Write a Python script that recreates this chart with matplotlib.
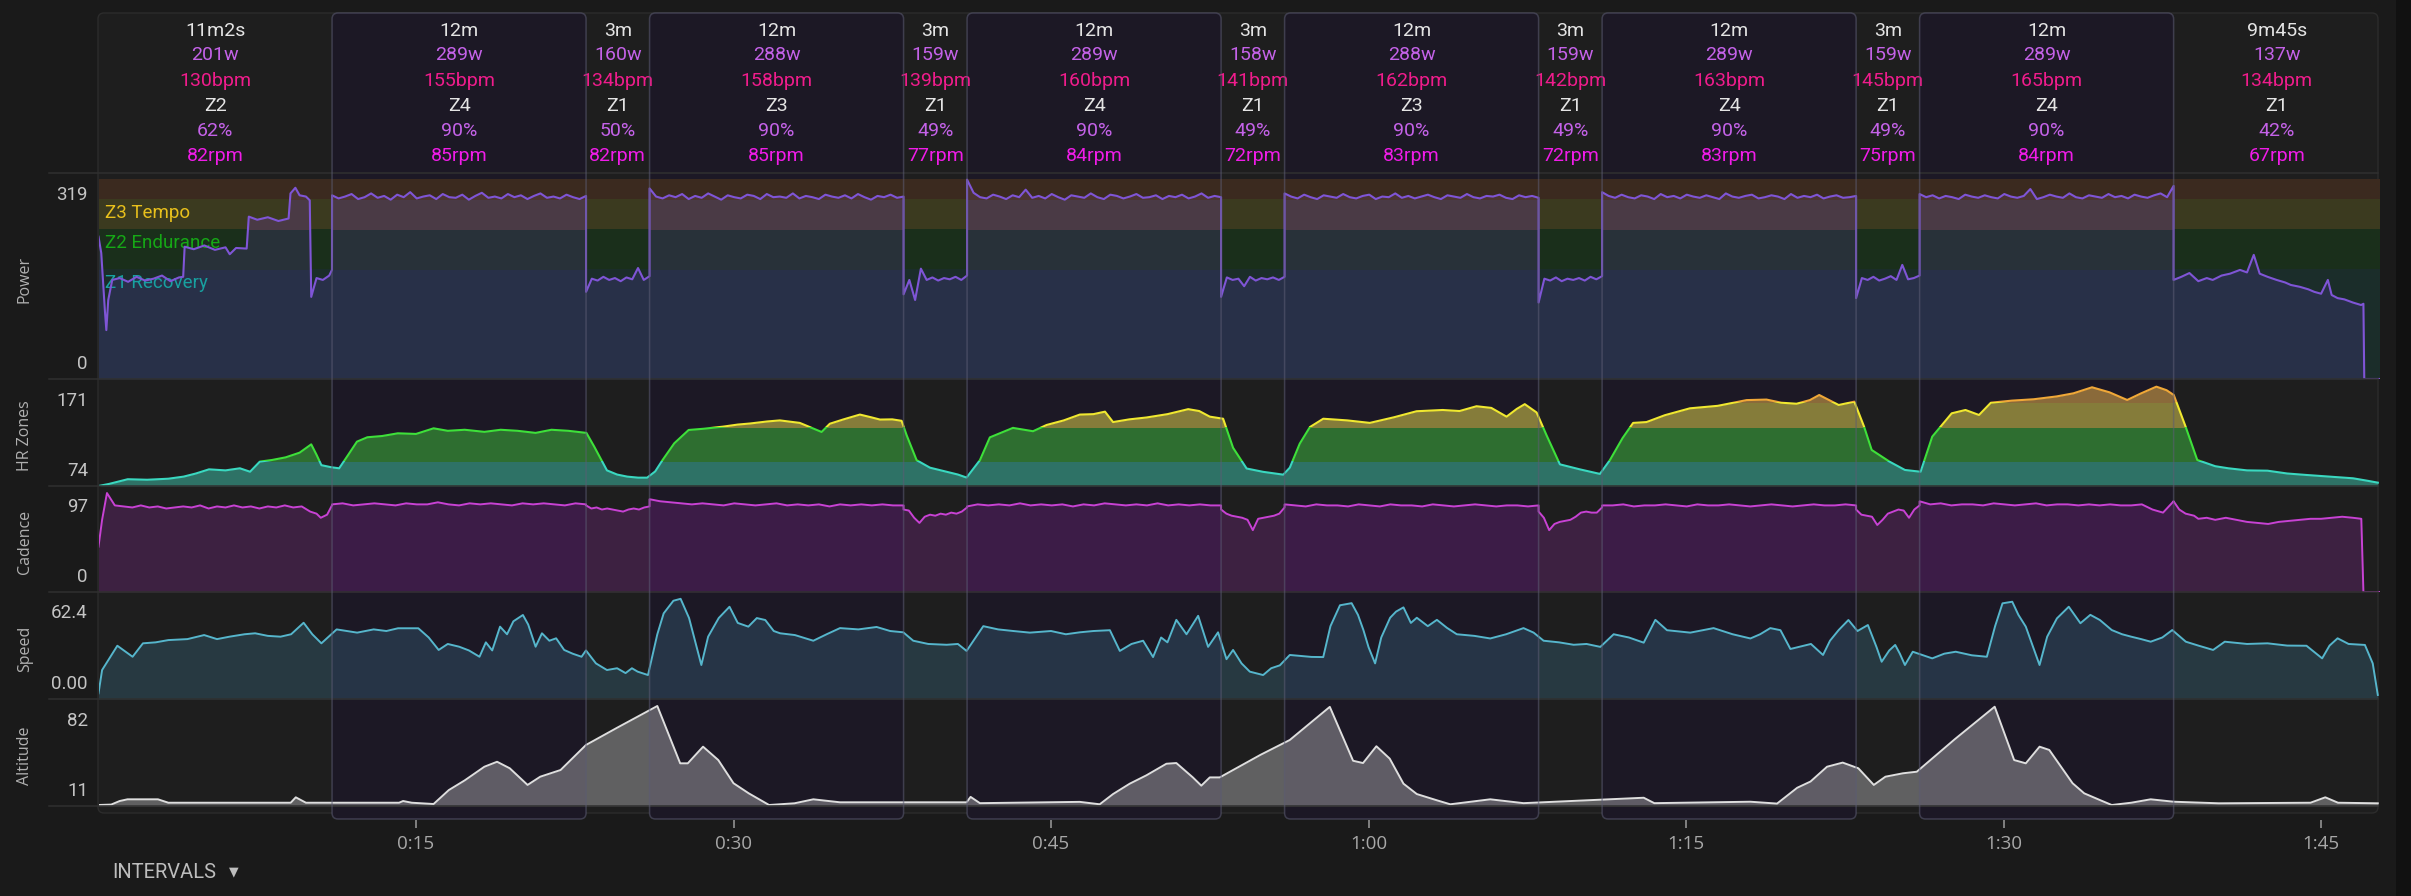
import numpy as np
import matplotlib
matplotlib.use("Agg")
import matplotlib.pyplot as plt
from matplotlib.patches import FancyBboxPatch, Rectangle

# ---------------- data ----------------
interval_labels = ["11m2s", "12m", "3m", "12m", "3m", "12m", "3m", "12m", "3m", "12m", "3m", "12m", "9m45s"]
interval_minutes = [11 + 2 / 60, 12, 3, 12, 3, 12, 3, 12, 3, 12, 3, 12, 9.75]
interval_is_work = [False, True, False, True, False, True, False, True, False, True, False, True, False]
interval_watts = [201, 289, 160, 288, 159, 289, 158, 288, 159, 289, 159, 289, 137]
interval_bpm = [130, 155, 134, 158, 139, 160, 141, 162, 142, 163, 145, 165, 134]
interval_zone = ["Z2", "Z4", "Z1", "Z3", "Z1", "Z4", "Z1", "Z3", "Z1", "Z4", "Z1", "Z4", "Z1"]
interval_pct = [62, 90, 50, 90, 49, 90, 49, 90, 49, 90, 49, 90, 42]
interval_rpm = [82, 85, 82, 85, 77, 84, 72, 83, 72, 83, 75, 84, 67]

# power (W)
power_warm_t = [0.0, 0.13, 0.30, 0.37, 0.46, 0.65, 1.0, 1.4, 1.8, 2.2, 2.6, 3.0, 3.4, 3.8, 4.0, 4.07, 4.5, 5.0, 5.5, 6.0,
                6.2, 6.5, 7.0, 7.1, 7.5, 8.0, 8.5, 8.98, 9.07, 9.3, 9.5, 9.8, 9.98, 10.05, 10.3, 10.6, 10.9, 11.03]
power_warm_w = [227, 201, 110, 78, 126, 158, 161, 155, 163, 157, 160, 165, 156, 162, 163, 211, 207, 213, 206, 210,
                199, 209, 208, 259, 254, 258, 252, 256, 296, 305, 293, 291, 285, 131, 161, 158, 165, 174]
power_work = [
    [293, 288, 291, 295, 287, 290, 296, 289, 292, 286, 294, 290, 298, 288, 291, 293, 287, 295, 290, 289,
     294, 286, 292, 297, 289, 291, 288, 295, 290, 293, 287, 292, 296, 289, 291, 288, 294, 290, 287, 292],
    [304, 291, 288, 293, 290, 295, 287, 292, 289, 296, 291, 286, 293, 290, 288, 294, 292, 287, 295, 290,
     291, 289, 296, 288, 292, 290, 287, 294, 291, 289, 293, 288, 295, 290, 286, 292, 290, 294, 289, 291],
    [318, 297, 290, 288, 294, 291, 287, 293, 290, 302, 289, 292, 288, 295, 290, 286, 293, 291, 289, 296,
     290, 287, 294, 292, 288, 291, 295, 289, 290, 293, 287, 292, 290, 294, 288, 291, 296, 289, 292, 290],
    [296, 291, 288, 294, 290, 287, 293, 291, 289, 295, 290, 288, 292, 294, 287, 291, 290, 296, 289, 292,
     288, 291, 294, 290, 287, 293, 291, 289, 295, 290, 288, 292, 291, 294, 289, 287, 293, 290, 292, 289],
    [298, 292, 289, 294, 290, 288, 293, 291, 287, 295, 290, 292, 288, 294, 291, 289, 293, 290, 287, 296,
     291, 289, 292, 294, 288, 290, 293, 291, 287, 295, 289, 292, 290, 294, 288, 291, 293, 289, 290, 292],
    [295, 290, 293, 288, 292, 290, 287, 294, 291, 289, 293, 290, 288, 295, 291, 289, 292, 303, 287, 290,
     294, 291, 289, 296, 290, 288, 293, 291, 289, 295, 290, 292, 288, 294, 291, 289, 293, 296, 290, 308],
]
power_recovery = [
    [139, 160, 157, 163, 158, 161, 156, 162, 159, 177, 158, 164],
    [135, 158, 126, 176, 158, 162, 157, 161, 159, 163, 158, 165],
    [131, 162, 158, 160, 148, 163, 157, 161, 159, 162, 158, 163],
    [122, 160, 157, 162, 156, 160, 158, 161, 157, 163, 159, 164],
    [129, 161, 158, 163, 157, 160, 164, 158, 182, 159, 161, 165],
]
power_cool_t = [98.03, 98.4, 98.78, 99.2, 99.6, 99.88, 100.3, 100.7, 101.17, 101.5, 101.82, 102.1, 102.47, 102.9,
                103.3, 103.57, 104.0, 104.4, 104.68, 105.0, 105.32, 105.5, 105.78, 106.1, 106.5, 106.89, 107.0,
                107.04, 107.78]
power_cool_w = [158, 163, 169, 156, 161, 158, 165, 168, 174, 170, 198, 168, 163, 158, 154, 150, 147, 143, 139, 136,
                158, 134, 129, 127, 122, 118, 120, 0, 0]

# heart rate (bpm)
hr_t = [0.0, 0.5, 1.38, 2.3, 3.3, 4.02, 4.6, 5.22, 6.0, 6.68,
        7.16, 7.62, 8.2, 8.84, 9.5, 10.05, 10.3, 10.53, 11.0, 11.37,
        11.8, 12.21, 12.7, 13.4, 14.14, 15.0, 15.83, 16.5, 17.3, 18.23,
        19.0, 19.8, 20.65, 21.4, 22.2, 23.05, 23.42, 24.02, 24.5, 24.98,
        25.5, 25.92, 26.3, 26.65, 27.2, 27.88, 28.6, 29.5, 30.2, 30.77,
        31.6, 32.19, 33.13, 34.16, 34.55, 35.2, 35.97, 36.5, 36.92, 37.5,
        37.94, 38.18, 38.65, 39.28, 40.07, 40.6, 41.01, 41.64, 42.11, 43.2,
        44.15, 44.79, 45.6, 46.36, 47.0, 47.55, 47.93, 48.7, 49.51, 50.5,
        51.48, 52.0, 52.5, 53.13, 53.6, 54.24, 55.02, 55.97, 56.28, 56.75,
        57.23, 57.86, 59.0, 60.06, 61.2, 62.27, 63.5, 64.3, 65.1, 65.8,
        66.52, 67.0, 67.38, 67.94, 68.41, 69.04, 69.98, 70.93, 71.4, 72.0,
        72.5, 73.13, 74.0, 75.18, 76.5, 77.86, 78.8, 79.5, 80.22, 80.85,
        81.29, 82.21, 82.95, 83.41, 83.77, 84.61, 85.34, 86.08, 86.63, 87.55,
        88.2, 88.84, 89.4, 90.4, 91.42, 92.5, 93.3, 94.18, 95.0, 95.84,
        96.5, 97.22, 97.7, 98.04, 98.6, 99.15, 100.0, 100.62, 101.5, 102.47,
        103.4, 104.3, 105.4, 106.51, 107.2, 107.68]
hr_v = [74, 76, 80.5, 80, 81, 83, 86, 90, 89, 91,
        87.7, 97.4, 99, 101.5, 106, 114, 104, 94, 92, 91,
        104, 116.6, 120.8, 122, 124.6, 124, 129.4, 127, 128, 126,
        128, 127, 125, 128, 127, 125, 111.8, 89, 85, 83,
        82, 82, 88, 99, 115, 127.8, 129, 131, 133, 134,
        136, 137, 134.6, 125.9, 133.8, 138, 142.6, 140, 137.8, 138,
        136.6, 122.7, 98.8, 91.6, 87.6, 85, 82.1, 98.8, 120.7, 129.8,
        126.6, 132.6, 137, 142.6, 143, 145.4, 135.4, 138, 139.8, 143,
        147.8, 146, 140.6, 138.6, 110.7, 90.8, 87.6, 84.9, 91.6, 114.7,
        130.6, 138.6, 137, 134.6, 140, 145.8, 147, 146, 150.6, 149,
        140.6, 148, 152.6, 144.6, 122.7, 94.8, 90, 85.6, 98.8, 120,
        134.6, 135.4, 142, 148.6, 151, 156.5, 157, 154, 153, 156.5,
        161.4, 151.8, 155, 131, 108.6, 97.4, 89.4, 87.7, 121.4, 143.8,
        147, 142.2, 154, 156, 157.3, 160, 163, 168.8, 164, 156.6,
        163, 169.4, 166, 161.4, 131, 99, 93, 91, 89, 88.7,
        86, 84.6, 83, 81.4, 79, 77.2]

# cadence (rpm)
cad_warm_t = [0.0, 0.17, 0.4, 0.77, 1.2, 1.6, 2.0, 2.4, 2.8, 3.2, 3.6, 4.0, 4.4, 4.8, 5.2, 5.6, 6.0, 6.4, 6.8, 7.2,
              7.6, 8.0, 8.4, 8.8, 9.2, 9.6, 10.0, 10.3, 10.5, 10.8, 11.03]
cad_warm_v = [44, 70, 96, 84, 83, 82, 84, 82, 83, 81, 82, 83, 82, 84, 81, 83, 82, 84, 82, 83,
              81, 83, 82, 84, 82, 83, 78, 76, 72, 75, 84]
cad_work = [
    [85, 86, 84, 85, 86, 85, 84, 86, 85, 85, 87, 85, 84, 86, 85, 86, 85, 84, 86, 85, 86, 85, 84, 86, 85],
    [90, 88, 87, 86, 85, 86, 85, 84, 86, 85, 84, 85, 86, 84, 85, 84, 85, 83, 85, 84, 85, 84, 85, 84, 84],
    [83, 85, 84, 85, 84, 86, 84, 85, 84, 85, 83, 85, 84, 86, 85, 84, 85, 84, 86, 84, 85, 84, 85, 84, 84],
    [85, 84, 83, 85, 84, 84, 83, 85, 84, 83, 85, 84, 84, 83, 85, 84, 83, 84, 85, 84, 83, 84, 84, 83, 84],
    [84, 84, 85, 83, 84, 84, 85, 84, 83, 85, 84, 84, 85, 84, 83, 84, 85, 84, 83, 84, 85, 84, 84, 85, 84],
    [88, 85, 86, 84, 85, 85, 84, 86, 85, 84, 85, 86, 84, 85, 85, 84, 85, 84, 85, 84, 84, 85, 80, 77, 88],
]
cad_recovery = [
    [84, 81, 82, 80, 81, 80, 79, 78, 80, 81, 80, 82, 83],
    [80, 79, 72, 67, 73, 75, 74, 76, 75, 77, 76, 78, 82],
    [80, 76, 74, 73, 72, 70, 60, 71, 72, 73, 74, 76, 82],
    [78, 72, 60, 66, 68, 69, 70, 73, 77, 78, 77, 77, 82],
    [80, 75, 74, 73, 65, 70, 76, 78, 80, 79, 72, 80, 84],
]
cad_cool_t = [98.03, 98.3, 98.6, 99.0, 99.2, 99.6, 100.0, 100.5, 101.0, 101.5, 102.0, 102.5, 103.0, 103.5, 104.0,
              104.5, 105.0, 105.5, 106.0, 106.5, 106.9, 107.0, 107.78]
cad_cool_v = [88, 80, 76, 74, 71, 72, 70, 72, 70, 68, 67, 66, 68, 69, 70, 71, 71, 72, 73, 72, 71, 0, 0]

# speed
spd_t = [0, 0.17, 0.89, 1.61, 2.10, 2.7, 3.30, 4.2, 4.99, 5.6,
         6.19, 6.9, 7.40, 8.0, 8.60, 9.1, 9.69, 10.1, 10.53, 11.25,
         12.22, 13.0, 13.6, 14.15, 15.11, 15.6, 16.07, 16.5, 17.04, 17.5,
         18.0, 18.3, 18.6, 18.97, 19.3, 19.6, 20.05, 20.3, 20.65, 20.95,
         21.3, 21.62, 22.0, 22.4, 22.82, 23.03, 23.5, 24.02, 24.5, 24.9,
         25.2, 25.47, 25.96, 26.4, 26.7, 27.16, 27.5, 27.9, 28.2, 28.48,
         28.8, 29.3, 29.81, 30.2, 30.7, 31.1, 31.5, 31.9, 32.2, 32.9,
         33.77, 34.4, 35.03, 35.9, 36.76, 37.4, 38.02, 38.49, 39.2, 40.07,
         40.6, 41.01, 41.8, 42.5, 43.22, 44.0, 45.0, 45.7, 46.36, 47.0,
         47.78, 48.25, 48.8, 49.35, 49.82, 50.2, 50.5, 50.92, 51.4, 51.95,
         52.42, 52.89, 53.29, 53.6, 54.0, 54.39, 55.02, 55.4, 55.81, 56.28,
         57.3, 57.86, 58.2, 58.65, 59.2, 59.5, 59.76, 60.0, 60.31, 60.6,
         61.02, 61.3, 61.65, 62.0, 62.28, 62.8, 63.23, 63.7, 64.17, 65.0,
         65.75, 66.5, 67.32, 67.8, 68.27, 69.0, 69.69, 70.3, 70.95, 71.58,
         72.3, 73.0, 73.55, 74.1, 75.2, 76.3, 77.2, 78.04, 78.5, 78.98,
         79.46, 79.93, 80.37, 80.9, 81.47, 81.8, 82.21, 82.67, 83.1, 83.59,
         84.0, 84.24, 84.6, 84.88, 85.1, 85.34, 85.71, 86.2, 86.63, 87.2,
         87.74, 88.5, 89.21, 89.6, 89.95, 90.41, 90.7, 91.05, 91.4, 91.7,
         92.06, 92.52, 93.08, 93.63, 94.1, 94.55, 95.11, 95.6, 96.03, 96.5,
         96.95, 97.5, 97.97, 98.61, 99.2, 99.9, 100.45, 101.5, 102.47, 103.4,
         104.31, 105.05, 105.4, 105.78, 106.3, 107.07, 107.44, 107.68]
spd_v = [3.5, 17.9, 32.9, 26.1, 34.4, 35, 36.4, 37, 39.5, 37,
         38.5, 40, 40.6, 39, 38.5, 40, 47.1, 40, 34.4, 43,
         41, 43, 42, 43.7, 43.7, 38, 30.3, 34, 32.3, 30,
         26.1, 35, 30, 44.7, 40, 48, 51.9, 46, 32.3, 40.6,
         36, 37.5, 30.3, 28, 26.1, 30, 22, 17.9, 19, 16,
         19, 16.9, 14.8, 40, 52.9, 60.7, 61.9, 50, 35, 21,
         38.5, 50, 57, 47, 44.7, 50, 48.8, 42, 40.6, 39.5,
         36, 40, 43.8, 43, 44.5, 42, 41.2, 36, 34, 33.5,
         34, 29.7, 45, 43, 42, 41, 42, 40, 41.2, 42,
         42.5, 29.7, 34, 36, 25.9, 38, 35, 48.9, 40, 51.4,
         32.2, 41.2, 24.6, 30.3, 22, 16.9, 14.8, 19, 20.8, 27.2,
         26, 25.9, 45, 57.9, 59.2, 52, 42.5, 32, 22, 38,
         50.2, 54, 56.6, 47, 50.2, 45, 48.9, 44, 40, 39,
         37.4, 40, 43.8, 41, 36, 35, 33.5, 34, 32.2, 40,
         38, 34.8, 48.9, 42.5, 41, 43.8, 40, 37.4, 40, 43.8,
         42.5, 30.9, 32.3, 34, 27.2, 36, 42.6, 48.8, 42, 45.7,
         32, 23, 30, 33.4, 28, 21, 29.2, 27, 25.1, 28,
         29.2, 27, 26.1, 45, 59.1, 60.1, 52, 44.7, 32, 21,
         38.5, 49.8, 57, 46.8, 52, 48.8, 42.6, 40, 38.5, 37,
         35.4, 38, 42.6, 35.4, 33, 30.3, 35.4, 34, 34.4, 33,
         32.9, 25.1, 33, 37.5, 34, 33.4, 22, 2.5]

# altitude (m)
alt_t = [0, 0.6, 1.0, 1.37, 2.81, 3.3, 9.08, 9.32, 9.8, 14.2,
         14.39, 14.8, 15.83, 16.55, 17.3, 18.23, 18.83, 19.43, 20.27, 20.87,
         21.83, 23.03, 24.5, 26.4, 27.48, 27.84, 28.56, 29.28, 30.0, 30.72,
         31.68, 32.88, 33.77, 35.03, 41.01, 41.2, 41.64, 46.36, 47.3, 47.93,
         48.72, 49.51, 50.45, 50.92, 51.7, 52.1, 52.5, 52.97, 54.9, 56.28,
         56.75, 58.17, 59.27, 59.74, 60.37, 61.0, 61.65, 62.28, 63.23, 63.86,
         65.75, 67.32, 73.0, 73.5, 78.04, 79.3, 80.25, 80.88, 81.66, 82.4,
         83.14, 83.87, 84.42, 85.25, 85.9, 87.7, 89.58, 90.5, 91.05, 91.7,
         92.16, 93.26, 93.81, 94.55, 95.11, 96.03, 96.95, 98.04, 100.17, 104.5,
         105.2, 105.8, 107.68]
alt_v = [11.7, 12, 14.5, 15.7, 15.7, 13.3, 13.3, 17.1, 13.3, 13.3,
         14.5, 13.3, 12.4, 22.2, 29, 38.6, 42.1, 37.5, 25.8, 31.6,
         36.3, 53.9, 66, 81.3, 41, 41, 52.7, 43.3, 27, 19.9,
         11.7, 12.9, 15.7, 13.6, 13.6, 17.4, 13, 13.9, 12.2, 19.4,
         26.7, 32.6, 40.7, 41.2, 31.1, 25.3, 31.1, 31.1, 47, 57.4,
         63.2, 80.7, 42.8, 41.2, 53, 44.3, 26.7, 19.4, 15, 12.2,
         15.7, 13, 16.8, 13, 14, 12.7, 23.8, 28.2, 38.6, 41.5,
         37.5, 25.8, 31.6, 34, 35.1, 58, 80.8, 43.3, 41, 52.7,
         50.4, 27, 19.9, 15.2, 11.7, 13.3, 15.7, 14, 12.9, 13.3,
         17.1, 13.3, 12.9]

power_zone_bounds = [0, 175, 239, 287, 319]
power_zone_names = ["Z1 Recovery", "Z2 Endurance", "Z3 Tempo"]
hr_zone_bounds = [74, 98, 131, 155, 250]
x_tick_minutes = [15, 30, 45, 60, 75, 90, 105]
x_tick_labels = ["0:15", "0:30", "0:45", "1:00", "1:15", "1:30", "1:45"]
row_names = ["Power", "HR Zones", "Cadence", "Speed", "Altitude"]
row_ranges = [(0, 319), (74, 171), (0, 97), (0, 62.4), (11, 82)]
row_tick_labels = [("319", "0"), ("171", "74"), ("97", "0"), ("62.4", "0.00"), ("82", "11")]

# ---------------- layout ----------------
W, H = 2411, 896
X0, X1 = 98.5, 2380.0
BG = '#1a1a1a'
PANEL_BG = '#1e1e1e'
WORK_BG = '#1c1825'
row_px = [(173, 379), (379, 486), (486, 592), (592, 699), (699, 806)]

durations = np.array(interval_minutes)
ends = np.cumsum(durations)
starts = ends - durations
total = ends[-1]
ppm = (X1 - X0) / total

fig = plt.figure(figsize=(W / 100, H / 100), dpi=100)
fig.patch.set_facecolor(BG)


def axes_px(x0, y0, x1, y1, z):
    ax = fig.add_axes([x0 / W, 1 - y1 / H, (x1 - x0) / W, (y1 - y0) / H])
    ax.set_zorder(z)
    ax.patch.set_visible(False)
    for s in ax.spines.values():
        s.set_visible(False)
    ax.set_xticks([])
    ax.set_yticks([])
    return ax


def build_series(warm_t, warm_v, work, recovery, cool_t, cool_v):
    t, v = list(warm_t), list(warm_v)
    wi, ri = 0, 0
    for i in range(1, len(interval_minutes) - 1):
        if interval_is_work[i]:
            vals = work[wi]
            wi += 1
        else:
            vals = recovery[ri]
            ri += 1
        t += list(np.linspace(starts[i], ends[i], len(vals)))
        v += list(vals)
    t += list(cool_t)
    v += list(cool_v)
    return np.array(t), np.array(v, dtype=float)


ax_bg = axes_px(0, 0, W, H, 0)
ax_bg.set_xlim(0, W)
ax_bg.set_ylim(H, 0)
ax_bg.add_patch(FancyBboxPatch((98, 13), 2378 - 98, 813 - 13, boxstyle='round,pad=0,rounding_size=6',
                               fc=PANEL_BG, ec='#2c2c2c', lw=1.0))
ax_bg.add_patch(Rectangle((2396, 0), 15, H, fc='#111111', ec='none'))

# work interval boxes
ax_tall = axes_px(X0, 0, X1, H, 0.5)
ax_tall.set_xlim(0, total)
ax_tall.set_ylim(H, 0)
ax_top = axes_px(X0, 0, X1, H, 3)
ax_top.set_xlim(0, total)
ax_top.set_ylim(H, 0)
for s, d, work in zip(starts, durations, interval_is_work):
    if work:
        style = f'round,pad=0,rounding_size={6 / ppm}'
        ax_tall.add_patch(FancyBboxPatch((s, 13), d, 806, boxstyle=style, mutation_aspect=ppm,
                                         fc=WORK_BG, ec='none'))
        ax_top.add_patch(FancyBboxPatch((s, 13), d, 806, boxstyle=style, mutation_aspect=ppm,
                                        fc='none', ec='#5c5c74', lw=1.1, alpha=0.55))

# separators
ax_sep = axes_px(0, 0, W, H, 2.5)
ax_sep.set_xlim(0, W)
ax_sep.set_ylim(H, 0)
for top, bot in row_px:
    ax_sep.plot([49, 2378], [top, top], color='#303030', lw=1.1)
ax_sep.plot([49, 2378], [806, 806], color='#303030', lw=1.1)

# header text
ax_h = axes_px(X0, 13, X1, 173, 2)
ax_h.set_xlim(0, total)
ax_h.set_ylim(173, 13)
hdr_colors = ['#e4e4e4', '#c462e8', '#f01c8c', '#e4e4e4', '#c462e8', '#f01ce8']
hdr_y = [29, 54, 79, 104, 129, 154]
for i in range(len(interval_labels)):
    mid = (starts[i] + ends[i]) / 2
    texts = [interval_labels[i], f"{interval_watts[i]}w", f"{interval_bpm[i]}bpm",
             interval_zone[i], f"{interval_pct[i]}%", f"{interval_rpm[i]}rpm"]
    for txt, yy, col in zip(texts, hdr_y, hdr_colors):
        ax_h.text(mid, yy + 6.5, txt, ha='center', va='baseline', color=col,
                  fontsize=14, family='Roboto')

# panel axes
axes = []
for (top, bot), (vmin, vmax) in zip(row_px, row_ranges):
    ax = axes_px(X0, top, X1, bot, 1)
    axes.append(ax)
ax_p, ax_hr, ax_c, ax_s, ax_a = axes

for name, (top, bot), (tl, bl) in zip(row_names, row_px, row_tick_labels):
    ax_bg.text(88, top + 20 + 6.5, tl, ha='right', va='baseline', fontsize=13.5, family='Roboto', color='#c4c4c4')
    ax_bg.text(88, bot - 16.5 + 6.5, bl, ha='right', va='baseline', fontsize=13.5, family='Roboto', color='#c4c4c4')
    ax_bg.text(25, (top + bot) / 2 + 3, name, rotation=90, ha='center', va='center', family='Open Sans',
               fontsize=11.5, color='#b0b0b0')

# ---- power ----
pt, pw = build_series(power_warm_t, power_warm_w, power_work, power_recovery, power_cool_t, power_cool_w)
band_colors = ['#1b2d2a', '#1a2f1b', '#3b3a1f', '#3b2a1f']
under_colors = ['#283048', '#283139', '#4a3a45', '#4c3433']
for k in range(4):
    lo, hi = power_zone_bounds[k], power_zone_bounds[k + 1]
    ax_p.axhspan(lo, hi, color=band_colors[k], lw=0, zorder=1)
    f = ax_p.fill_between(pt, 0, pw, color=under_colors[k], lw=0, zorder=2)
    f.set_clip_path(Rectangle((0, lo), total, hi - lo, transform=ax_p.transData))
zl_colors = ['#18a0a0', '#16a816', '#e8c01c']
zl_y = [282, 242, 212]
for name, yy, col in zip(power_zone_names, zl_y, zl_colors):
    ax_p.text((105 - X0) / (X1 - X0), (379 - (yy + 6.5)) / (379 - 173), name, transform=ax_p.transAxes,
              ha='left', va='baseline', color=col, fontsize=13.5, family='Roboto', zorder=3)
ax_p.plot(pt, pw, color='#7f55d6', lw=1.5, zorder=4)

# ---- heart rate ----
hr_fill = ['#2e7266', '#2e6e30', '#857c3a', '#8a6a3a']
hr_line = ['#3ad8c0', '#3ee03a', '#f0e830', '#f0a838']
for k in range(4):
    lo, hi = hr_zone_bounds[k], hr_zone_bounds[k + 1]
    f = ax_hr.fill_between(hr_t, 74, hr_v, color=hr_fill[k], lw=0, zorder=2)
    f.set_clip_path(Rectangle((0, lo), total, hi - lo, transform=ax_hr.transData))
    ln, = ax_hr.plot(hr_t, hr_v, color=hr_line[k], lw=1.5, zorder=3)
    ln.set_clip_path(Rectangle((0, lo), total, hi - lo, transform=ax_hr.transData))

# ---- cadence ----
ct, cv = build_series(cad_warm_t, cad_warm_v, cad_work, cad_recovery, cad_cool_t, cad_cool_v)
ax_c.fill_between(ct, 0, cv, color='#ae2ec0', alpha=0.22, lw=0, zorder=2)
ax_c.plot(ct, cv, color='#c842d4', lw=1.4, zorder=3)

# ---- speed ----
ax_s.fill_between(spd_t, 0, spd_v, color='#4fa8cf', alpha=0.2, lw=0, zorder=2)
ax_s.plot(spd_t, spd_v, color='#56b6cc', lw=1.4, zorder=3)

# ---- altitude ----
ax_a.fill_between(alt_t, 11, alt_v, color='#b1b1b4', alpha=0.45, lw=0, zorder=2)
ax_a.plot(alt_t, alt_v, color='#dedede', lw=1.4, zorder=3)

for ax, (vmin, vmax), (top, bot) in zip(axes, row_ranges, row_px):
    ax.set_xlim(0, total)
    ax.set_ylim(vmin, vmax + 6 * (vmax - vmin) / (bot - top - 6))

# x axis on altitude panel
ax_a.set_xticks(x_tick_minutes)
ax_a.set_xticklabels(x_tick_labels)
ax_a.spines['bottom'].set_position(('outward', 14 * 0.72))
ax_a.tick_params(axis='x', length=8 * 0.72, width=1.1, color='#9c9c9c', pad=5,
                 labelsize=13.5, labelcolor='#a8a8a8')
for lab in ax_a.get_xticklabels():
    lab.set_family('Open Sans')

# intervals footer
ax_bg.text(112, 872 + 6.5, "INTERVALS", ha='left', va='baseline', family='Roboto', fontsize=14.5,
           color='#bdbdbd')
ax_bg.text(234, 872, "▼", ha='center', va='center', family='DejaVu Sans', fontsize=9, color='#bdbdbd')

fig.savefig('out.png', dpi=100, facecolor=BG)
